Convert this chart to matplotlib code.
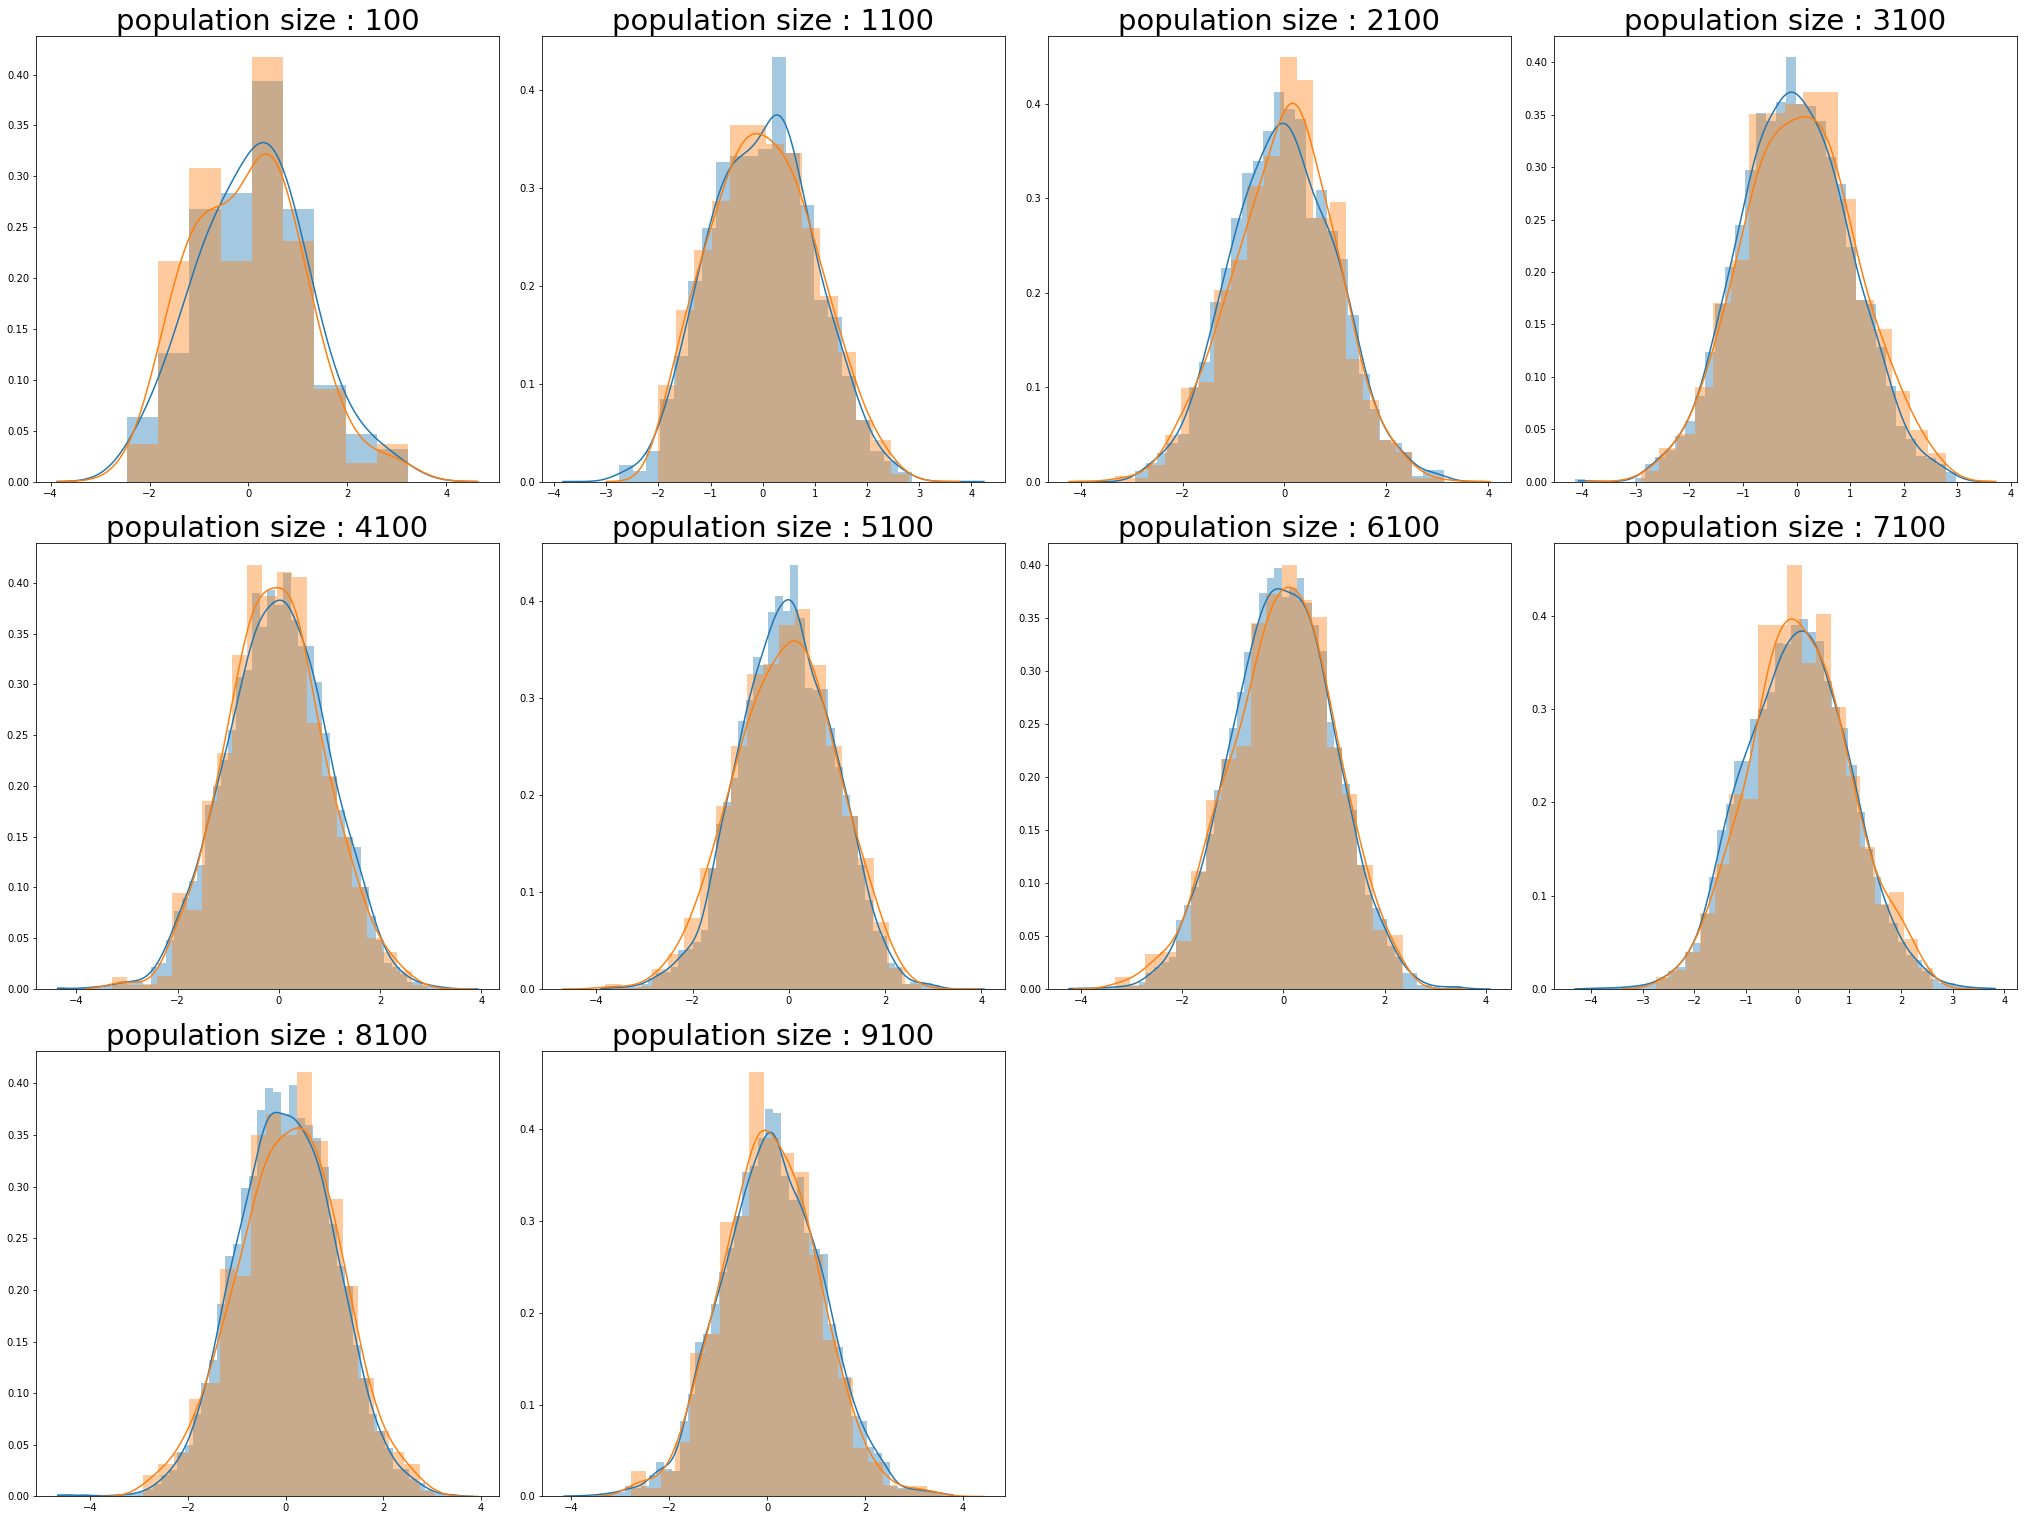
import math

import numpy as np
import matplotlib
matplotlib.use("Agg")
import matplotlib.pyplot as plt

# ======================================================
# Data (density histograms)
# ======================================================

SIZES = [100, 1100, 2100, 3100, 4100, 5100, 6100, 7100, 8100, 9100]

# first bin edge and bin width of each blue histogram
BLUE_START = [-2.458, -2.766, -2.928, -4.137, -4.382, -3.847, -4.197, -4.090, -4.683, -4.171]
BLUE_WIDTH = [0.632, 0.268, 0.2092, 0.1872, 0.1538, 0.1551, 0.1487, 0.1585, 0.1637, 0.1591]

BLUE_HEIGHTS = [
    [0.063, 0.126, 0.268, 0.284, 0.394, 0.268, 0.095, 0.047, 0.032],
    [0.0167, 0.0106, 0.031, 0.084, 0.1285, 0.205, 0.259, 0.327, 0.333, 0.333,
     0.340, 0.434, 0.336, 0.283, 0.186, 0.168, 0.108, 0.063, 0.031, 0.021, 0.010],
    [0.011, 0.020, 0.030, 0.041, 0.050, 0.100, 0.126, 0.190, 0.226, 0.279,
     0.327, 0.339, 0.371, 0.412, 0.394, 0.384, 0.279, 0.309, 0.265, 0.236,
     0.176, 0.114, 0.077, 0.044, 0.041, 0.031, 0.006, 0.012, 0.012],
    [0.002, 0, 0, 0, 0, 0, 0.0035, 0.017, 0.023, 0.030,
     0.043, 0.058, 0.082, 0.124, 0.169, 0.205, 0.245, 0.297, 0.352, 0.344,
     0.362, 0.405, 0.360, 0.358, 0.344, 0.310, 0.284, 0.224, 0.173, 0.169,
     0.128, 0.091, 0.053, 0.041, 0.024, 0.022, 0.017, 0.009],
    [0.002, 0, 0, 0.001, 0.002, 0.002, 0.003, 0.004, 0.008, 0.008,
     0.008, 0.004, 0.022, 0.026, 0.048, 0.077, 0.090, 0.106, 0.122, 0.181,
     0.200, 0.226, 0.255, 0.307, 0.314, 0.390, 0.357, 0.393, 0.378, 0.410,
     0.364, 0.338, 0.338, 0.302, 0.252, 0.209, 0.176, 0.150, 0.140, 0.100,
     0.072, 0.048, 0.026, 0.022, 0.015, 0.007, 0.007, 0.003, 0.003, 0.002],
    [0.002, 0, 0.002, 0.003, 0.002, 0.005, 0.011, 0.016, 0.018, 0.023,
     0.040, 0.041, 0.048, 0.061, 0.125, 0.170, 0.193, 0.217, 0.276, 0.298,
     0.342, 0.334, 0.388, 0.405, 0.389, 0.437, 0.382, 0.310, 0.308, 0.309,
     0.269, 0.229, 0.200, 0.178, 0.128, 0.092, 0.060, 0.055, 0.027, 0.023,
     0.005, 0.007, 0.007, 0.006, 0.004],
    [0.001, 0.001, 0, 0.001, 0.001, 0.002, 0.002, 0.003, 0.003, 0.007,
     0.015, 0.021, 0.025, 0.030, 0.065, 0.079, 0.096, 0.110, 0.146, 0.188,
     0.217, 0.246, 0.280, 0.318, 0.344, 0.373, 0.387, 0.397, 0.370, 0.378,
     0.387, 0.364, 0.343, 0.319, 0.252, 0.227, 0.193, 0.169, 0.117, 0.089,
     0.076, 0.066, 0.041, 0.030, 0.015, 0.015, 0.004, 0.004, 0.002, 0.001,
     0.003, 0.003],
    [0.001, 0.001, 0.001, 0.001, 0.002, 0.002, 0.004, 0.004, 0.0075, 0.012,
     0.019, 0.024, 0.040, 0.049, 0.080, 0.120, 0.170, 0.198, 0.244, 0.244,
     0.289, 0.300, 0.319, 0.371, 0.370, 0.390, 0.397, 0.383, 0.373, 0.330,
     0.302, 0.280, 0.240, 0.190, 0.150, 0.120, 0.090, 0.071, 0.050, 0.036,
     0.031, 0.019, 0.011, 0.006, 0.006, 0.003, 0.002, 0.001, 0.001, 0.001],
    [0.002, 0.002, 0, 0.002, 0.001, 0, 0.001, 0.001, 0.002, 0.002,
     0.004, 0.007, 0.012, 0.021, 0.026, 0.043, 0.050, 0.080, 0.110, 0.132,
     0.186, 0.233, 0.245, 0.299, 0.310, 0.374, 0.396, 0.392, 0.370, 0.399,
     0.367, 0.360, 0.347, 0.319, 0.264, 0.223, 0.204, 0.147, 0.115, 0.080,
     0.063, 0.047, 0.027, 0.027, 0.017, 0.013, 0.006, 0.003, 0.002, 0.002],
    [0.001, 0, 0.001, 0.001, 0.002, 0.003, 0.004, 0.005, 0.011, 0.009,
     0.011, 0.023, 0.038, 0.030, 0.028, 0.082, 0.112, 0.168, 0.177, 0.209,
     0.244, 0.270, 0.305, 0.353, 0.360, 0.390, 0.422, 0.418, 0.349, 0.323,
     0.348, 0.287, 0.269, 0.264, 0.188, 0.163, 0.130, 0.088, 0.082, 0.054,
     0.047, 0.038, 0.011, 0.009, 0.008, 0.008, 0.006, 0.006, 0.003, 0.003],
]

ORANGE_START = [-2.458, -2.002, -3.320, -2.902, -3.297, -3.820, -3.329, -2.734, -2.923, -2.784]
ORANGE_WIDTH = [0.632, 0.3437, 0.3235, 0.3348, 0.2965, 0.3283, 0.2993, 0.2815, 0.3151, 0.3025]

ORANGE_HEIGHTS = [
    [0.037, 0.217, 0.308, 0.217, 0.417, 0.236, 0.091, 0.018, 0.037],
    [0.0985, 0.175, 0.237, 0.287, 0.365, 0.365, 0.345, 0.336, 0.259, 0.190,
     0.133, 0.063, 0.042, 0.008],
    [0.006, 0.004, 0.017, 0.049, 0.099, 0.105, 0.203, 0.234, 0.313, 0.344,
     0.449, 0.425, 0.279, 0.296, 0.130, 0.086, 0.044, 0.031, 0.004, 0.004],
    [0.010, 0.032, 0.045, 0.090, 0.170, 0.211, 0.351, 0.352, 0.360, 0.372,
     0.372, 0.270, 0.173, 0.146, 0.086, 0.049, 0.027],
    [0.012, 0.004, 0.005, 0.013, 0.095, 0.078, 0.185, 0.232, 0.329, 0.418,
     0.387, 0.411, 0.406, 0.262, 0.210, 0.150, 0.100, 0.050, 0.036, 0.018, 0.004],
    [0.005, 0.001, 0.003, 0.021, 0.036, 0.073, 0.125, 0.188, 0.250, 0.324,
     0.335, 0.375, 0.391, 0.334, 0.250, 0.178, 0.135, 0.069, 0.022, 0.005],
    [0.011, 0.004, 0.033, 0.035, 0.045, 0.111, 0.178, 0.217, 0.229, 0.345,
     0.372, 0.400, 0.367, 0.351, 0.228, 0.184, 0.117, 0.056, 0.051],
    [0.013, 0.020, 0.040, 0.082, 0.134, 0.209, 0.204, 0.390, 0.390, 0.455,
     0.350, 0.402, 0.302, 0.228, 0.152, 0.091, 0.104, 0.054, 0.023],
    [0.021, 0.031, 0.042, 0.094, 0.110, 0.220, 0.214, 0.350, 0.370, 0.350,
     0.411, 0.344, 0.288, 0.204, 0.115, 0.063, 0.043, 0.031, 0.005],
    [0.028, 0.009, 0.028, 0.059, 0.156, 0.177, 0.299, 0.305, 0.462, 0.390,
     0.374, 0.353, 0.263, 0.170, 0.129, 0.053, 0.038, 0.012, 0.008, 0.011, 0.005],
]

# sample size behind the orange histograms (estimated from their bin width)
ORANGE_N = [100, 485, 575, 523, 755, 556, 736, 882, 629, 711]

# x extent of each density curve
BLUE_SPAN = [(-3.87, 4.60), (-3.83, 4.24), (-4.10, 3.90), (-4.07, 3.65), (-4.37, 3.93),
             (-3.90, 4.05), (-4.235, 4.077), (-4.31, 3.82), (-4.67, 3.84), (-4.15, 3.80)]
ORANGE_SPAN = [(-3.85, 4.64), (-3.00, 3.78), (-4.227, 4.031), (-3.93, 3.72), (-3.80, 3.85),
               (-4.69, 3.95), (-4.14, 3.60), (-3.40, 3.50), (-3.80, 3.94), (-3.63, 4.43)]

BLUE = "#1f77b4"
ORANGE = "#ff7f0e"

_erf = np.vectorize(math.erf)


def density_curve(start, width, heights, n, span):
    """Gaussian (Scott) smoothing of a density histogram, like a KDE."""
    heights = np.asarray(heights, dtype=float)
    lefts = start + width * np.arange(len(heights))
    mass = heights * width
    mass = mass / mass.sum()
    centers = lefts + width / 2
    mu = (mass * centers).sum()
    sd = np.sqrt((mass * (centers - mu) ** 2).sum() + width ** 2 / 12)
    bw = 1.059 * sd * n ** -0.2

    x = np.linspace(span[0], span[1], 200)
    s = bw * np.sqrt(2)
    lo = _erf((x[:, None] - lefts[None, :]) / s)
    hi = _erf((x[:, None] - (lefts + width)[None, :]) / s)
    y = (0.5 * (lo - hi) * (mass / width)[None, :]).sum(axis=1)
    return x, y


def draw_hist(ax, start, width, heights, color):
    lefts = start + width * np.arange(len(heights))
    ax.bar(lefts, heights, width=width, align="edge",
           color=color, alpha=0.4, linewidth=0)


# ======================================================
# PLOT
# ======================================================

fig, axes = plt.subplots(3, 4, figsize=(2024 / 72, 1520 / 72), dpi=72)
axes = axes.ravel()

for i, size in enumerate(SIZES):
    ax = axes[i]

    draw_hist(ax, BLUE_START[i], BLUE_WIDTH[i], BLUE_HEIGHTS[i], BLUE)
    x, y = density_curve(BLUE_START[i], BLUE_WIDTH[i], BLUE_HEIGHTS[i],
                         size, BLUE_SPAN[i])
    ax.plot(x, y, color=BLUE, lw=1.5)

    draw_hist(ax, ORANGE_START[i], ORANGE_WIDTH[i], ORANGE_HEIGHTS[i], ORANGE)
    x, y = density_curve(ORANGE_START[i], ORANGE_WIDTH[i], ORANGE_HEIGHTS[i],
                         ORANGE_N[i], ORANGE_SPAN[i])
    ax.plot(x, y, color=ORANGE, lw=1.5)

    ax.set_title(f"population size : {size}", fontsize=29, pad=2)

for ax in axes[len(SIZES):]:
    fig.delaxes(ax)

fig.subplots_adjust(left=0.0178, right=0.9965, top=0.9763, bottom=0.0155,
                    wspace=0.093, hspace=0.139)

fig.savefig("out.png", dpi=72)
